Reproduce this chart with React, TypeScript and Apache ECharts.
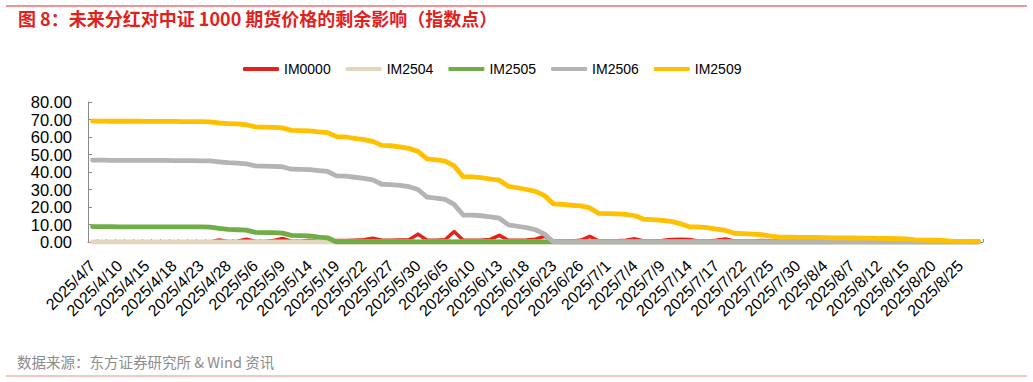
import React, { useEffect, useRef } from "react";
import * as echarts from "echarts";

const categories = [
  "2025/4/7","2025/4/8","2025/4/9","2025/4/10","2025/4/11","2025/4/14","2025/4/15","2025/4/16","2025/4/17","2025/4/18",
  "2025/4/21","2025/4/22","2025/4/23","2025/4/24","2025/4/25","2025/4/28","2025/4/29","2025/4/30",
  "2025/5/6","2025/5/7","2025/5/8","2025/5/9","2025/5/12","2025/5/13","2025/5/14","2025/5/15","2025/5/16",
  "2025/5/19","2025/5/20","2025/5/21","2025/5/22","2025/5/23","2025/5/26","2025/5/27","2025/5/28","2025/5/29","2025/5/30",
  "2025/6/3","2025/6/4","2025/6/5","2025/6/6","2025/6/9","2025/6/10","2025/6/11","2025/6/12","2025/6/13",
  "2025/6/16","2025/6/17","2025/6/18","2025/6/19","2025/6/20","2025/6/23","2025/6/24","2025/6/25","2025/6/26","2025/6/27","2025/6/30",
  "2025/7/1","2025/7/2","2025/7/3","2025/7/4","2025/7/7","2025/7/8","2025/7/9","2025/7/10","2025/7/11",
  "2025/7/14","2025/7/15","2025/7/16","2025/7/17","2025/7/18","2025/7/21","2025/7/22","2025/7/23","2025/7/24","2025/7/25",
  "2025/7/28","2025/7/29","2025/7/30","2025/7/31","2025/8/1","2025/8/4","2025/8/5","2025/8/6","2025/8/7","2025/8/8",
  "2025/8/11","2025/8/12","2025/8/13","2025/8/14","2025/8/15","2025/8/18","2025/8/19","2025/8/20","2025/8/21","2025/8/22",
  "2025/8/25","2025/8/26","2025/8/27",
];

const im0000 = [
  -0.5,-0.5,-0.5,-0.5,-0.5,-0.5,-0.5,0.0,0.0,0.0,0.0,0.0,0.0,0.0,
  1.2,0.3,0.5,1.6,0.5,0.3,0.8,2.0,0.5,0.4,1.0,0.3,0.5,
  0.8,0.8,1.0,1.3,2.1,1.0,1.0,1.2,1.3,4.5,
  1.0,1.0,1.3,6.0,1.0,1.0,1.0,1.5,3.8,1.0,
  1.0,1.2,1.6,3.3,0.5,0.6,0.6,1.0,3.2,0.6,
  0.6,0.7,1.0,1.8,0.6,0.6,0.9,1.5,1.6,1.4,
  0.6,0.6,1.0,1.7,0.6,0.6,0.6,0.9,0.7,0.5,
  0.5,0.5,0.5,0.5,0.5,0.5,0.5,0.5,0.5,0.5,0.5,0.5,0.5,0.5,0.5,0.5,0.5,0.5,0.5,0.5,0.5,0.5,
];

const im2504 = [
  0,0,0,0,0,0,0,0,0,0,0,0,0,0,0,0,0,0,0,0,0,0,0,0,0,0,0,0,0,0,0,0,0,
  0,0,0,0,0,0,0,0,0,0,0,0,0,0,0,0,0,0,0,0,0,0,0,0,0,0,0,0,0,0,0,0,0,
  0,0,0,0,0,0,0,0,0,0,0,0,0,0,0,0,0,0,0,0,0,0,0,0,0,0,0,0,0,0,0,0,0,
];

const im2505 = [
  8.8,8.8,8.8,8.7,8.7,8.7,8.7,8.7,8.7,8.7,8.6,8.6,8.6,8.5,
  7.8,7.2,7.0,6.8,5.5,5.4,5.3,5.1,3.8,3.7,3.5,2.8,2.4,
  0,0,0,0,0,0,0,0,0,0,0,0,0,0,0,0,0,0,0,0,0,0,0,0,
  0,0,0,0,0,0,0,0,0,0,0,0,0,0,0,0,0,0,0,0,0,0,0,0,
  0,0,0,0,0,0,0,0,0,0,0,0,0,0,0,0,0,0,0,0,0,0,0,0,
];

const im2506 = [
  46.8,46.8,46.7,46.7,46.6,46.6,46.6,46.6,46.6,46.5,46.5,46.5,46.4,46.3,
  45.8,45.3,45.1,44.7,43.5,43.3,43.2,43.0,41.6,41.5,41.4,40.8,40.3,
  37.8,37.6,37.0,36.4,35.5,33.0,32.8,32.3,31.6,30.0,
  25.6,25.1,24.4,21.5,15.4,15.3,15.0,14.3,13.6,9.8,
  9.0,8.2,7.0,4.5,
  0,0,0,0,0,0,0,0,0,0,0,0,0,0,0,0,
  0,0,0,0,0,0,0,0,0,0,0,0,0,0,0,0,
  0,0,0,0,0,0,0,0,0,0,0,0,0,0,0,0,
];

const im2509 = [
  69.1,69.1,69.0,69.0,69.0,69.0,68.9,68.9,68.9,68.9,68.8,68.8,68.8,68.7,
  68.0,67.7,67.5,67.0,65.8,65.6,65.5,65.2,63.8,63.7,63.5,62.9,62.5,
  60.2,60.0,59.2,58.5,57.5,55.2,55.0,54.3,53.5,51.8,
  47.5,46.9,46.2,43.5,37.3,37.2,36.8,36.0,35.3,31.8,
  31.0,30.0,28.9,26.5,21.8,21.5,21.0,20.6,19.5,16.3,
  16.2,16.1,15.8,15.0,13.0,12.8,12.4,11.8,10.5,8.7,
  8.6,8.2,7.4,6.6,5.0,4.8,4.5,4.2,3.4,2.8,
  2.8,2.7,2.6,2.6,2.5,2.4,2.3,2.3,2.2,2.2,
  2.1,2.0,1.9,1.8,1.2,1.1,1.0,0.9,0.5,0.4,
  0.3,0.2,
];

const seriesNames = ["IM0000", "IM2504", "IM2505", "IM2506", "IM2509"];
const seriesData = [im0000, im2504, im2505, im2506, im2509];
const seriesColors = ["#E3221C", "#E2D7BD", "#70AD47", "#B4B4B4", "#FFC000"];
const seriesWidths = [3.5, 4.8, 4.8, 4.8, 4.8];

const titleText = "图 8：未来分红对中证 1000 期货价格的剩余影响（指数点）";
const sourceText = "数据来源：东方证券研究所 & Wind 资讯";

export default function App() {
  const ref = useRef<HTMLDivElement>(null);

  useEffect(() => {
    if (!ref.current) return;
    const chart = echarts.init(ref.current, null, { renderer: "svg" });
    const latin = "Arial, 'Liberation Sans', sans-serif";
    const cjk = "'Noto Sans CJK SC', sans-serif";
    chart.setOption({
      animation: false,
      backgroundColor: "#ffffff",
      graphic: [
        { type: "line", shape: { x1: 6, y1: 6, x2: 1027, y2: 6 }, style: { stroke: "#E8262A", lineWidth: 1 } },
        { type: "line", shape: { x1: 6, y1: 376, x2: 1027, y2: 376 }, style: { stroke: "#F08A8A", lineWidth: 1 } },
        {
          type: "text", left: 18, top: 9,
          style: { text: titleText, fontSize: 18, fontWeight: "bold", fill: "#E3211C", fontFamily: cjk },
        },
        {
          type: "text", left: 17, top: 354,
          style: { text: sourceText, fontSize: 14.5, fill: "#8C8C8C", fontFamily: cjk },
        },
      ],
      legend: {
        left: 238,
        top: 57,
        itemWidth: 36,
        itemHeight: 4,
        itemGap: 15,
        icon: "roundRect",
        textStyle: { fontSize: 14, color: "#000", fontFamily: latin },
        data: seriesNames,
      },
      grid: { left: 88, top: 102, width: 895, height: 140, containLabel: false },
      xAxis: {
        type: "category",
        data: categories,
        boundaryGap: true,
        axisLine: { lineStyle: { color: "#898989", width: 1 } },
        axisTick: { show: true, inside: true, length: 3, interval: 0, lineStyle: { color: "#898989" } },
        axisLabel: {
          interval: 2,
          rotate: 45,
          fontSize: 16,
          color: "#000",
          fontFamily: latin,
          margin: 21,
        },
        splitLine: { show: false },
      },
      yAxis: {
        type: "value",
        min: 0,
        max: 80,
        interval: 10,
        axisLine: { show: true, lineStyle: { color: "#898989", width: 1 } },
        axisTick: { show: true, inside: true, length: 4, lineStyle: { color: "#898989" } },
        axisLabel: {
          fontSize: 16.5,
          color: "#000",
          fontFamily: latin,
          margin: 16,
          formatter: (v: number) => v.toFixed(2),
        },
        splitLine: { show: false },
      },
      series: seriesNames.map((name, i) => ({
        name,
        type: "line",
        data: seriesData[i],
        symbol: "none",
        smooth: false,
        color: seriesColors[i],
        lineStyle: { color: seriesColors[i], width: seriesWidths[i], join: "round", cap: "round" },
        z: 2 + i,
      })),
    });
    return () => chart.dispose();
  }, []);

  return (
    <div
      ref={ref}
      style={{ position: "absolute", left: 0, top: 0, width: 1033, height: 382, background: "#fff" }}
    />
  );
}
